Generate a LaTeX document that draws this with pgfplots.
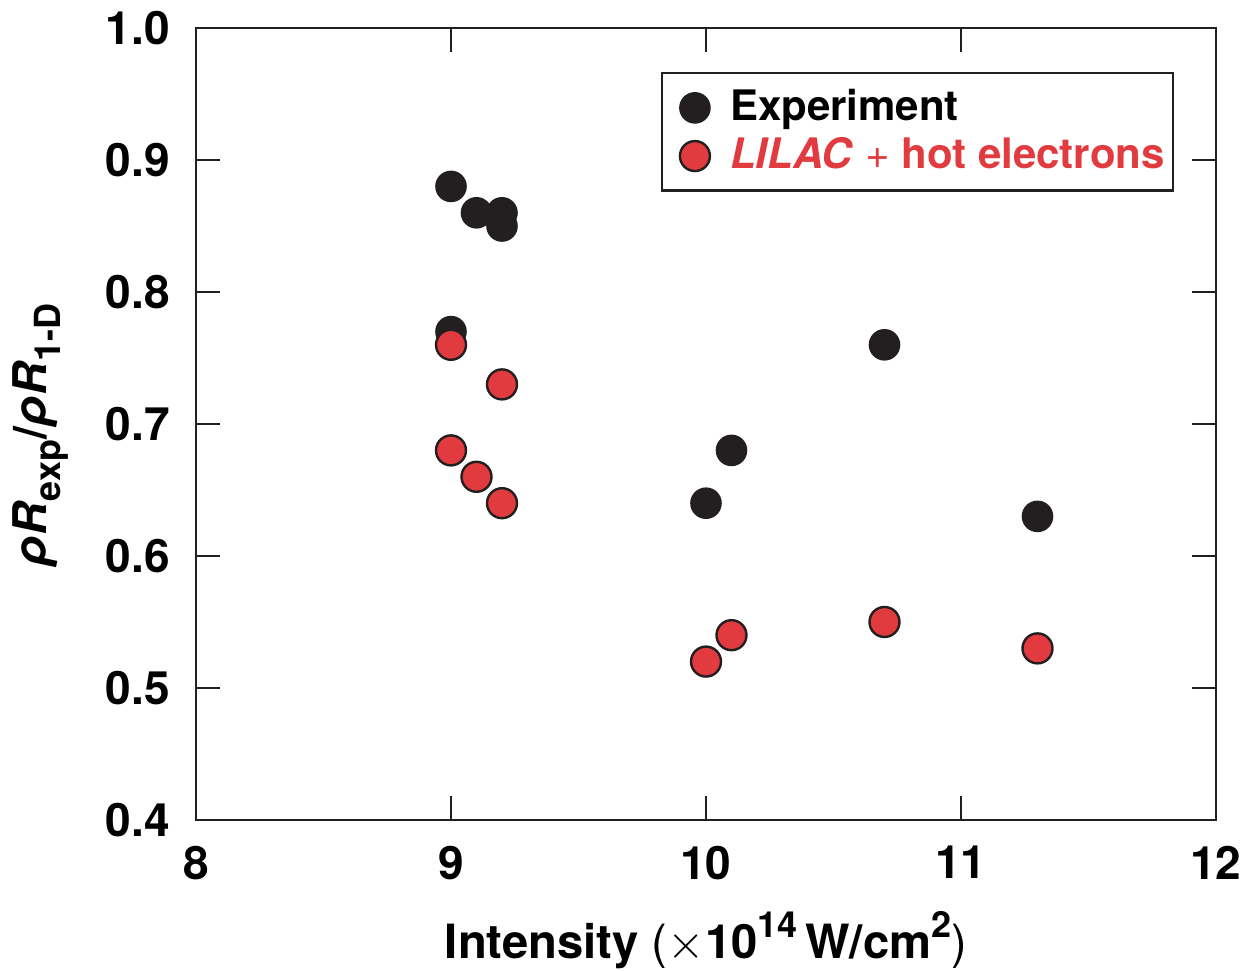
\documentclass[border=0pt]{standalone}
\usepackage{pgfplots}
\pgfplotsset{compat=1.18}
\usepackage{fontspec}
\setmainfont{TeX Gyre Heros}
\definecolor{expblack}{HTML}{231F20}
\definecolor{lilacred}{HTML}{E23B3F}
\newcommand{\mysup}[1]{\raisebox{0.45em}{\fontsize{9}{9}\selectfont #1}}
\newcommand{\mysub}[1]{\raisebox{-0.3em}{\fontsize{9}{9}\selectfont #1}}
\pgfplotsset{mylegimg/.style={legend image code/.code={\path (-8pt,0) (6.5pt,0); \draw[##1] plot coordinates {(0pt,0pt)};}}}

\pgfplotstableread{
x y
9.0 0.88
9.1 0.86
9.2 0.86
9.2 0.85
9.0 0.77
10.0 0.64
10.1 0.68
10.7 0.76
11.3 0.63
}\exptable

\pgfplotstableread{
x y
9.0 0.76
9.2 0.73
9.0 0.68
9.1 0.66
9.2 0.64
10.0 0.52
10.1 0.54
10.7 0.55
11.3 0.53
}\lilactable

\begin{document}
\begin{tikzpicture}
\useasboundingbox (-49pt,-37.75pt) rectangle (262pt,205pt);
\begin{axis}[
 at={(0,0)}, anchor=south west,
 scale only axis, width=255pt, height=198pt,
 xmin=8, xmax=12, ymin=0.4, ymax=1.0,
 xtick={8,9,10,11,12},
 ytick={0.4,0.5,0.6,0.7,0.8,0.9,1.0},
 yticklabels={0.4,0.5,0.6,0.7,0.8,0.9,1.0},
 /pgf/number format/assume math mode=true,
 tick align=inside, major tick length=6pt, minor tick num=0,
 tick style={line width=0.6pt, color=expblack},
 axis line style={line width=0.6pt, color=expblack},
 ticklabel style={font=\fontsize{11.5}{12}\selectfont\bfseries},
 xticklabel style={yshift=-3pt},
 yticklabel style={xshift=-3pt},
 xlabel={\textbf{Intensity} (\(\times\)\textbf{10\mysup{14}\,W/cm\mysup{2}})},
 xlabel style={font=\fontsize{11.8}{14}\selectfont, at={(axis description cs:0.5,0)}, anchor=center, yshift=-30pt},
 ylabel={\bfseries\textit{ρR}\mysub{exp}/\textit{ρR}\mysub{1-D}},
 ylabel style={font=\fontsize{11.6}{14}\selectfont, at={(axis description cs:-0.152,0.486)}, anchor=center},
 legend style={at={(axis description cs:1,1)}, anchor=north east, xshift=-10.5pt, yshift=-11pt,
   draw=expblack, line width=0.6pt, font=\fontsize{10.5}{11}\selectfont\bfseries,
   inner xsep=0pt, inner ysep=2pt, row sep=-1.25pt},
 legend cell align=left,
]
\addplot[only marks, mark=*, mark size=3.75pt, mark options={fill=expblack, draw=expblack, line width=0.4pt}, mylegimg] table[x=x,y=y] {\exptable};
\addlegendentry{Experiment}
\addplot[only marks, mark=*, mark size=3.75pt, mark options={fill=lilacred, draw=expblack, line width=0.6pt}, mylegimg] table[x=x,y=y] {\lilactable};
\addlegendentry{\textcolor{lilacred}{\textit{LILAC} {\mdseries+} hot electrons}}
\end{axis}
\end{tikzpicture}
\end{document}
